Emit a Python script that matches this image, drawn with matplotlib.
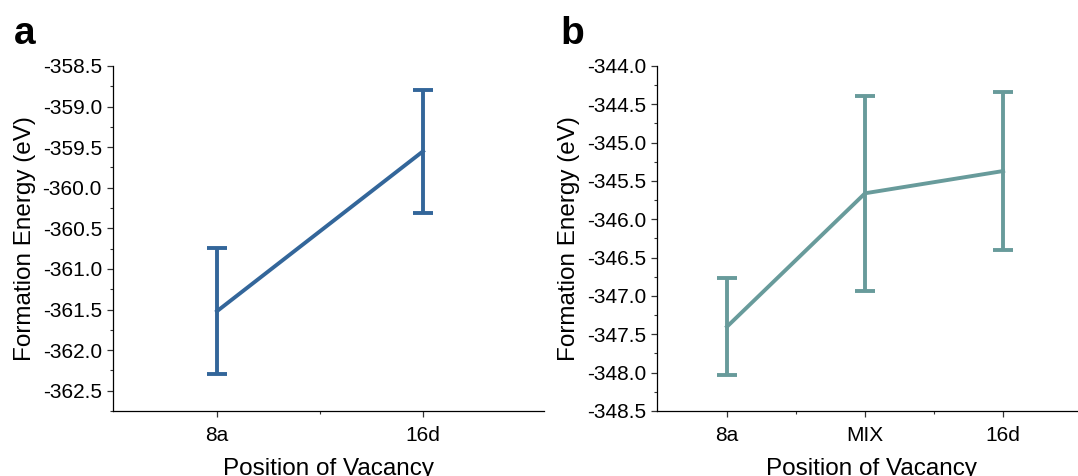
import matplotlib
matplotlib.use("Agg")
import matplotlib.pyplot as plt
from matplotlib.ticker import MultipleLocator, FixedLocator

plt.rcParams['font.family'] = ['Liberation Sans', 'DejaVu Sans']

# ---- data ----
sites_a = ["8a", "16d"]
energy_a = [-361.52, -359.55]
err_a = [0.78, 0.76]

sites_b = ["8a", "MIX", "16d"]
energy_b = [-347.40, -345.66, -345.37]
err_b = [0.63, 1.27, 1.03]

col_a = "#33669a"
col_b = "#689b9b"

W, H = 1078, 476
fig = plt.figure(figsize=(W / 100, H / 100), dpi=100)


def panel(rect, sites, vals, errs, col, ylim, xlim, letter, lxy):
    ax = fig.add_axes(rect)
    xs = list(range(len(sites)))
    ax.errorbar(xs, vals, yerr=errs, color=col, lw=2.8, capsize=7,
                capthick=2.8, elinewidth=2.8)
    ax.set_xlim(*xlim)
    ax.set_ylim(*ylim)
    ax.set_xticks(xs)
    ax.set_xticklabels(sites)
    ax.xaxis.set_minor_locator(FixedLocator([x + 0.5 for x in xs[:-1]]))
    ax.yaxis.set_major_locator(MultipleLocator(0.5))
    ax.yaxis.set_minor_locator(MultipleLocator(0.25))
    ax.yaxis.set_major_formatter(matplotlib.ticker.FormatStrFormatter('%.1f'))
    for s in ("top", "right"):
        ax.spines[s].set_visible(False)
    for s in ("left", "bottom"):
        ax.spines[s].set_linewidth(0.9)
    ax.tick_params(which="major", direction="out", length=4, width=0.9,
                   labelsize=15, pad=4, color="#333333")
    ax.tick_params(axis="x", which="major", pad=7)
    ax.tick_params(which="minor", direction="out", length=2.5, width=0.8,
                   color="#333333")
    ax.set_xlabel("Position of Vacancy", fontsize=17.5, labelpad=9)
    ax.set_ylabel("Formation Energy (eV)", fontsize=17.5, labelpad=5)
    fig.text(lxy[0] / W, 1 - lxy[1] / H, letter, fontsize=28,
             fontweight="bold", ha="left", va="baseline")
    return ax


bot = (H - 411) / H
hgt = (411 - 66) / H
panel([113 / W, bot, (544 - 113) / W, hgt], sites_a, energy_a, err_a, col_a,
      (-362.75, -358.5), (-0.505, 1.587), "a", (14, 44))
panel([657 / W, bot, (1086 - 657) / W, hgt], sites_b, energy_b, err_b, col_b,
      (-348.5, -344.0), (-0.507, 2.6), "b", (560, 44))

fig.savefig("out.png", dpi=100)
